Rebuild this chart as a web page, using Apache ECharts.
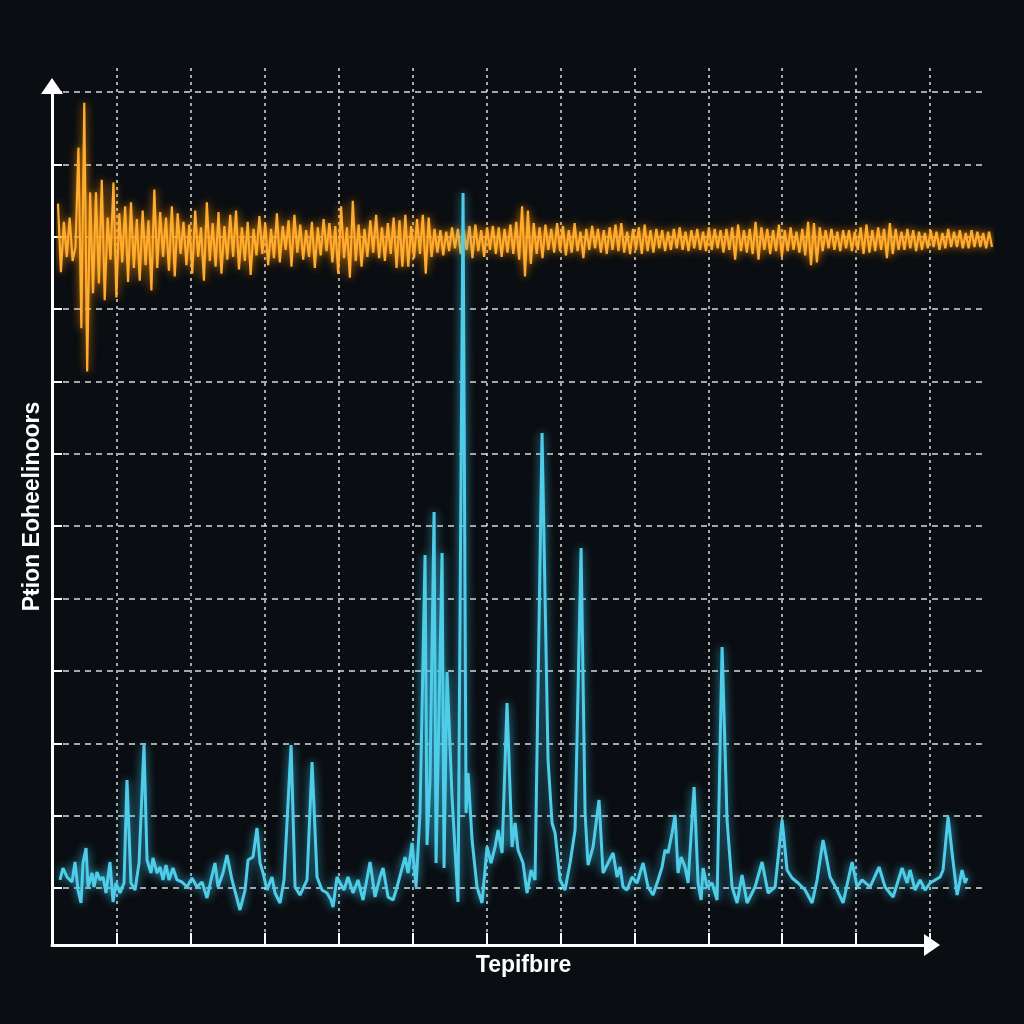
<!DOCTYPE html>
<html>
<head>
<meta charset="utf-8">
<script src="https://cdn.jsdelivr.net/npm/echarts@6/dist/echarts.min.js"></script>
<style>
html,body{margin:0;padding:0;background:#0a0d11;}
#chart{width:1024px;height:1024px;}
</style>
</head>
<body>
<div id="chart"></div>
<script>
// ---- labels ----
var xName = 'Tepifbıre';
var yName = 'Pŧion Eoheelinoors';
var gridTicks = [0, 1, 2, 3, 4, 5, 6, 7, 8, 9, 10, 11];

// ---- orange signal (amplitude, evenly sampled) ----
var orangeAmp = [
 0.26,-0.23,0.13,-0.12,0.16,-0.15,-0.05,0.66,-0.63,0.98,
 -0.94,0.34,-0.38,0.34,-0.31,0.43,-0.43,0.16,-0.14,0.41,
 -0.41,0.19,-0.16,0.24,-0.3,0.27,-0.2,0.15,-0.29,0.21,
 -0.18,0.14,-0.36,0.36,-0.2,0.2,-0.12,0.16,-0.22,0.24,
 -0.26,0.19,-0.1,0.13,-0.18,0.11,-0.24,0.21,-0.12,0.09,
 -0.29,0.27,-0.15,0.12,-0.19,0.2,-0.24,0.1,-0.14,0.18,
 -0.12,0.21,-0.21,0.09,-0.15,0.13,-0.25,0.08,-0.11,0.17,
 -0.1,0.12,-0.18,0.08,-0.13,0.19,-0.16,0.1,-0.07,0.14,
 -0.19,0.18,-0.09,0.11,-0.14,0.07,-0.12,0.13,-0.2,0.09,
 -0.11,0.15,-0.08,0.12,-0.16,0.1,-0.24,0.24,-0.13,0.09,
 -0.27,0.28,-0.15,0.11,-0.19,0.08,-0.12,0.14,-0.09,0.18,
 -0.13,0.09,-0.15,0.12,-0.1,0.16,-0.2,0.14,-0.19,0.18,
 -0.19,0.1,-0.13,0.15,-0.1,0.18,-0.24,0.16,-0.12,0.08,
 -0.09,0.07,-0.11,0.06,-0.08,0.09,-0.06,0.08,-0.1,0.07,
 -0.07,0.1,-0.13,0.11,-0.08,0.07,-0.12,0.09,-0.07,0.1,
 -0.1,0.09,-0.12,0.08,-0.09,0.11,-0.1,0.13,-0.14,0.24,
 -0.26,0.21,-0.17,0.12,-0.1,0.09,-0.13,0.11,-0.07,0.08,
 -0.09,0.12,-0.08,0.1,-0.11,0.07,-0.09,0.12,-0.08,0.06,
 -0.13,0.08,-0.07,0.1,-0.06,0.08,-0.09,0.07,-0.1,0.09,
 -0.07,0.11,-0.08,0.12,-0.09,0.06,-0.1,0.08,-0.07,0.09,
 -0.1,0.11,-0.08,0.07,-0.09,0.08,-0.06,0.07,-0.08,0.06,
 -0.07,0.08,-0.06,0.09,-0.07,0.06,-0.08,0.07,-0.06,0.08,
 -0.07,0.06,-0.08,0.09,-0.07,0.08,-0.06,0.07,-0.09,0.08,
 -0.07,0.09,-0.14,0.11,-0.08,0.07,-0.09,0.08,-0.1,0.13,
 -0.14,0.09,-0.07,0.08,-0.1,0.07,-0.08,0.11,-0.12,0.07,
 -0.08,0.09,-0.07,0.06,-0.09,0.08,-0.11,0.13,-0.18,0.12,
 -0.16,0.09,-0.08,0.07,-0.06,0.08,-0.07,0.06,-0.08,0.07,
 -0.06,0.07,-0.08,0.06,-0.07,0.09,-0.1,0.11,-0.09,0.07,
 -0.08,0.09,-0.07,0.08,-0.13,0.12,-0.1,0.08,-0.07,0.06,
 -0.07,0.08,-0.06,0.07,-0.08,0.06,-0.07,0.05,-0.06,0.07,
 -0.05,0.06,-0.07,0.05,-0.06,0.08,-0.05,0.06,-0.05,0.07,
 -0.06,0.05,-0.06,0.07,-0.05,0.06,-0.05,0.05,-0.06,0.06,-0.05
];

// ---- cyan signal (time in grid divisions, value in grid divisions) ----
var cyanT = [
 -0.771,-0.731,-0.677,-0.609,-0.568,-0.528,-0.487,-0.460,-0.419,-0.392,
 -0.338,-0.311,-0.271,-0.230,-0.189,-0.149,-0.095,-0.054,-0.014,0.041,
 0.095,0.135,0.189,0.244,0.298,0.365,0.406,0.460,0.487,0.541,
 0.582,0.622,0.663,0.704,0.758,0.812,0.880,0.947,1.015,1.083,
 1.150,1.218,1.272,1.326,1.367,1.434,1.488,1.556,1.664,1.732,
 1.773,1.840,1.894,1.935,1.976,2.030,2.097,2.138,2.206,2.260,
 2.355,2.409,2.476,2.571,2.639,2.706,2.774,2.842,2.896,2.923,
 2.977,3.018,3.072,3.126,3.194,3.261,3.329,3.424,3.491,3.559,
 3.600,3.667,3.735,3.789,3.857,3.897,3.938,3.992,4.046,4.100,
 4.168,4.195,4.235,4.290,4.317,4.398,4.425,4.465,4.533,4.614,
 4.682,4.723,4.750,4.804,4.871,4.939,5.007,5.061,5.115,5.156,
 5.210,5.277,5.345,5.386,5.426,5.494,5.548,5.602,5.656,5.751,
 5.832,5.886,5.927,5.995,6.062,6.130,6.198,6.279,6.333,6.373,
 6.441,6.522,6.576,6.644,6.712,6.766,6.807,6.847,6.901,6.969,
 7.037,7.118,7.185,7.253,7.321,7.375,7.415,7.456,7.510,7.551,
 7.591,7.632,7.686,7.727,7.808,7.862,7.903,7.930,7.984,8.051,
 8.119,8.187,8.254,8.322,8.390,8.457,8.525,8.633,8.728,8.809,
 8.904,8.999,9.066,9.134,9.215,9.310,9.405,9.472,9.553,9.648,
 9.743,9.824,9.946,10.014,10.081,10.189,10.311,10.392,10.501,10.622,
 10.690,10.731,10.798,10.866,10.934,11.001,11.069,11.137,11.177,11.245,
 11.299,11.367,11.434,11.475,11.502
];
var cyanV = [
 0.111,0.276,0.152,0.083,0.359,-0.028,-0.207,0.345,0.553,0.014,
 0.207,0.014,0.221,0.111,0.152,-0.069,0.359,-0.193,0.069,-0.069,
 0.069,1.493,0.069,-0.028,0.345,1.976,0.387,0.207,0.415,0.207,
 0.290,0.111,0.318,0.111,0.276,0.111,0.083,0.014,0.138,0.014,
 0.083,-0.138,0.111,0.345,0.014,0.207,0.456,0.111,-0.304,-0.028,
 0.387,0.428,0.829,0.345,0.207,-0.028,0.152,-0.069,-0.207,0.111,
 1.976,0.014,-0.097,0.111,1.741,0.152,-0.028,-0.069,-0.166,-0.263,
 0.152,0.069,-0.028,0.152,-0.069,0.111,-0.166,0.359,-0.124,0.152,
 0.276,-0.124,-0.166,0.014,0.276,0.428,0.207,0.622,0.014,1.037,
 4.602,0.594,1.493,5.196,0.345,4.630,0.276,2.985,1.258,-0.193,
 9.605,1.037,1.589,0.663,0.014,-0.207,0.567,0.345,0.567,0.802,
 0.484,2.557,0.567,0.898,0.525,0.345,-0.069,0.249,0.111,6.288,
 1.769,0.898,0.760,0.111,-0.028,0.345,0.802,4.699,1.037,0.318,
 0.567,1.216,0.207,0.345,0.484,0.152,0.290,0.014,-0.028,0.152,
 0.069,0.345,0.014,-0.097,0.111,0.290,0.525,0.484,0.760,1.009,
 0.207,0.428,0.290,0.069,1.396,0.069,-0.166,0.276,0.014,0.069,
 -0.166,3.331,0.940,0.014,-0.207,0.180,-0.207,0.014,0.359,-0.069,
 0.014,0.940,0.249,0.138,0.069,-0.028,-0.207,0.111,0.663,0.152,
 -0.028,-0.207,0.359,0.014,0.111,0.014,0.290,0.014,-0.124,0.276,
 0.069,0.249,-0.028,0.111,-0.028,0.069,0.111,0.152,0.249,0.981,
 0.484,-0.097,0.249,0.069,0.138
];

var orangeData = orangeAmp.map(function (v, i) { return [i, v]; });
var cyanData = cyanT.map(function (t, i) { return [t, cyanV[i]]; });

var chart = echarts.init(document.getElementById('chart'), null, {renderer: 'canvas'});
var white = '#ffffff';
var nameStyle = {color: white, fontSize: 23, fontWeight: 'bold', fontFamily: 'Liberation Sans, Arial, sans-serif'};
var hidden = {show: false};

chart.setOption({
  backgroundColor: '#0a0d11',
  animation: false,
  grid: [
    {left: 117, right: 94, top: 68, bottom: 79},       // vertical grid lines & x ticks
    {left: 52, right: 39, top: 92, bottom: 136},       // horizontal grid lines & y ticks
    {left: 52, right: 92, top: 86, bottom: 79},        // axis lines with arrows
    {left: 58, right: 32, top: 100, bottom: 644},      // orange signal
    {left: 43.1, right: 20.1, top: 92, bottom: 136}    // cyan signal
  ],
  xAxis: [
    {gridIndex: 0, type: 'value', min: gridTicks[0], max: gridTicks[gridTicks.length - 1], interval: 1,
     axisLine: hidden, axisLabel: hidden,
     axisTick: {show: true, inside: true, length: 12, lineStyle: {color: white, width: 2}},
     splitLine: {show: true, lineStyle: {color: 'rgba(255,255,255,0.85)', width: 1.5, type: [3, 4]}},
     name: xName, nameLocation: 'middle', nameGap: 9, nameTextStyle: nameStyle, z: 1},
    {gridIndex: 1, type: 'value', min: 0, max: 1, show: false},
    {gridIndex: 2, type: 'value', min: 0, max: 1,
     axisLine: {show: true, onZero: false, symbol: ['none', 'triangle'], symbolSize: [22, 16],
                lineStyle: {color: white, width: 3}},
     axisTick: hidden, axisLabel: hidden, splitLine: hidden, z: 5},
    {gridIndex: 3, type: 'value', min: 0, max: orangeAmp.length - 1, show: false},
    {gridIndex: 4, type: 'value', min: -1, max: 12, show: false}
  ],
  yAxis: [
    {gridIndex: 0, type: 'value', min: 0, max: 1,
     axisLine: hidden, axisTick: hidden, axisLabel: hidden, splitLine: hidden,
     name: yName, nameLocation: 'middle', nameGap: 73, nameTextStyle: nameStyle},
    {gridIndex: 1, type: 'value', min: gridTicks[0], max: gridTicks[gridTicks.length - 1], interval: 1,
     axisLine: hidden, axisLabel: hidden,
     axisTick: {show: true, inside: true, length: 10, lineStyle: {color: white, width: 2}},
     splitLine: {show: true, lineStyle: {color: 'rgba(255,255,255,0.85)', width: 1.5, type: [6, 5]}}, z: 1},
    {gridIndex: 2, type: 'value', min: 0, max: 1,
     axisLine: {show: true, onZero: false, symbol: ['none', 'triangle'], symbolSize: [22, 16],
                lineStyle: {color: white, width: 3}},
     axisTick: hidden, axisLabel: hidden, splitLine: hidden, z: 5},
    {gridIndex: 3, type: 'value', min: -1, max: 1, show: false},
    {gridIndex: 4, type: 'value', min: 0, max: 11, show: false}
  ],
  series: [
    {type: 'line', xAxisIndex: 3, yAxisIndex: 3, data: orangeData, showSymbol: false, clip: false, z: 3,
     lineStyle: {color: '#ffac30', width: 2.2, shadowBlur: 8, shadowColor: 'rgba(255,150,0,0.9)'},
     emphasis: {disabled: true}},
    {type: 'line', xAxisIndex: 4, yAxisIndex: 4, data: cyanData, showSymbol: false, clip: false, z: 4,
     lineStyle: {color: '#4fcde8', width: 3, shadowBlur: 10, shadowColor: 'rgba(60,200,240,0.8)'},
     emphasis: {disabled: true}}
  ]
});
</script>
</body>
</html>
